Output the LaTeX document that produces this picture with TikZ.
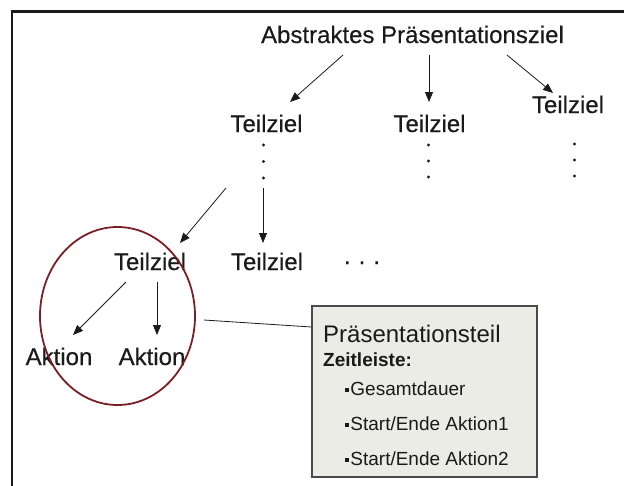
\documentclass[tikz,border=0pt]{standalone}
\usepackage{fontspec}
\setmainfont{Liberation Sans}
\newfontfamily\labelfont{Liberation Sans}[FakeBold=0.35]
\usetikzlibrary{arrows.meta,shapes.geometric}

\definecolor{ink}{HTML}{1A1A1A}
\definecolor{maroon}{HTML}{7A1F25}
\definecolor{panelfill}{HTML}{ECECE6}
\definecolor{panelline}{HTML}{4A4A4A}

\newcommand{\sqbul}{\rule[3pt]{3.6pt}{3.6pt}\hspace{1.6pt}}

\tikzset{
  lbl/.style={inner sep=0pt, outer sep=0pt, anchor=base, text=ink,
              font=\labelfont\fontsize{24}{28}\selectfont},
  dot/.style={fill=ink},
  arr/.style={draw=ink, line width=0.8pt,
              -{Triangle[length=10pt,width=8pt]}},
  paneltxt/.style={inner sep=0pt, anchor=base west, text=ink},
  panel/.style={draw=panelline, fill=panelfill, line width=1.3pt,
                inner sep=0pt, minimum width=225pt, minimum height=171pt},
  group/.style={draw=maroon, line width=1.8pt, ellipse, inner sep=0pt,
                minimum width=155pt, minimum height=178pt}
}

\begin{document}
\begin{tikzpicture}[x=1pt,y=-1pt]
\useasboundingbox (0,0) rectangle (624,485);

% outer frame (top and left edges)
\draw[line width=2.6pt, ink] (12,490) -- (12,11.3) -- (630,11.3);

% goal tree labels
\node[lbl] (abs) at (412.5,43) {Abstraktes Präsentationsziel};
\node[lbl] (t1) at (266.5,132) {Teilziel};
\node[lbl] (t2) at (429.5,132) {Teilziel};
\node[lbl] (t3) at (568,113) {Teilziel};
\node[lbl] (t4) at (150,270) {Teilziel};
\node[lbl] (t5) at (267,270) {Teilziel};
\node[lbl] (more) at (362,264) {.\,\,.\,\,.};
\node[lbl] (a1) at (59,365) {Aktion};
\node[lbl] (a2) at (152,365) {Aktion};

% vertical ellipses below the first-level subgoals
\foreach \y in {145,161.5,178} \fill[dot] (263.5,\y) circle (1.6);
\foreach \y in {145,161,177}   \fill[dot] (428.5,\y) circle (1.6);
\foreach \y in {144,160,176}   \fill[dot] (574.5,\y) circle (1.6);

% arrow end points
\coordinate (p1s) at (343,55);  \coordinate (p1e) at (290,102);
\coordinate (p2s) at (429,55);  \coordinate (p2e) at (429,102);
\coordinate (p3s) at (507,55);  \coordinate (p3e) at (553,93);
\coordinate (p4s) at (226,188); \coordinate (p4e) at (180,243);
\coordinate (p5s) at (263,188); \coordinate (p5e) at (263,243);
\coordinate (p6s) at (126,282); \coordinate (p6e) at (73,335);
\coordinate (p7s) at (157,282); \coordinate (p7e) at (157,335);

\draw[arr] (p1s) -- (p1e);
\draw[arr] (p2s) -- (p2e);
\draw[arr] (p3s) -- (p3e);
\draw[arr] (p4s) -- (p4e);
\draw[arr] (p5s) -- (p5e);
\draw[arr] (p6s) -- (p6e);
\draw[arr] (p7s) -- (p7e);

% highlighted group and its presentation part
\node[group] (grp) at (117.5,316) {};
\node[panel] (pnl) at (424.5,391.5) {};
\draw[ink, line width=0.8pt] ([shift={(8pt,-4pt)}]grp.east) -- ([yshift=64.5pt]pnl.west);

\node[paneltxt, font=\fontsize{24}{28}\selectfont] (ph) at (323,342) {Präsentationsteil};
\node[paneltxt, font=\fontsize{19}{22}\selectfont\bfseries] (zl) at (323,366) {Zeitleiste:};
\node[paneltxt, font=\fontsize{19}{22}\selectfont] (b1) at (345,395) {\sqbul Gesamtdauer};
\node[paneltxt, font=\fontsize{19}{22}\selectfont] (b2) at (345,430) {\sqbul Start/Ende Aktion1};
\node[paneltxt, font=\fontsize{19}{22}\selectfont] (b3) at (345,465) {\sqbul Start/Ende Aktion2};
\end{tikzpicture}
\end{document}
